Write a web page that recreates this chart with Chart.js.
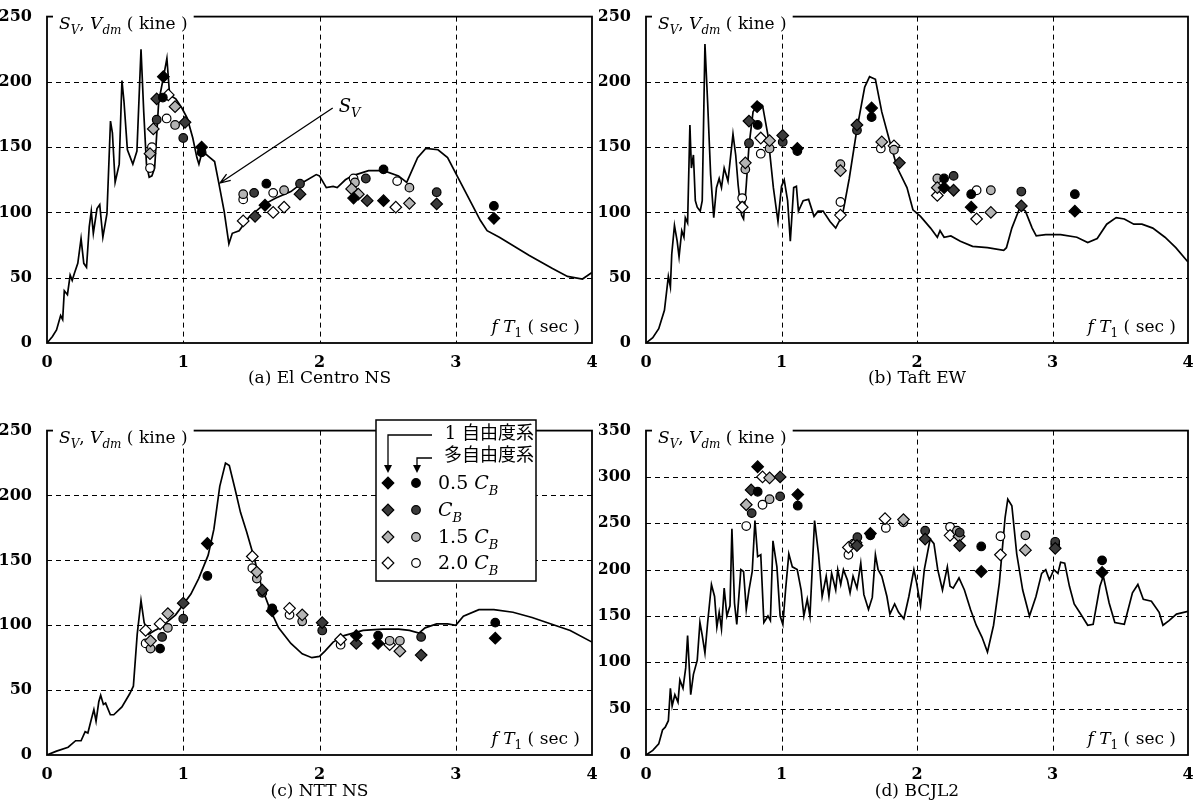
<!DOCTYPE html>
<html lang="ja">
<head>
<meta charset="UTF-8">
<title>Sv, Vdm - fT1</title>
<script src="https://cdn.jsdelivr.net/npm/chart.js"></script>
<style>
  body { margin: 0; background: #fff; }
  #wrap { position: relative; width: 1201px; height: 803px; overflow: hidden; }
  canvas { position: absolute; }
</style>
</head>
<body>
<div id="wrap">
  <canvas id="ca" width="600" height="400" style="left:0;top:0"></canvas>
  <canvas id="cb" width="602" height="400" style="left:599px;top:0"></canvas>
  <canvas id="cc" width="600" height="389" style="left:0;top:414px"></canvas>
  <canvas id="cd" width="602" height="389" style="left:599px;top:414px"></canvas>
</div>
<script>
// ---- データ (x: fT1 sec, y: kine) ----
const xTicks = [0, 1, 2, 3, 4];
const yTicksABC = [0, 50, 100, 150, 200, 250];
const yTicksD = [0, 50, 100, 150, 200, 250, 300, 350];
const captions = ['(a) El Centro NS', '(b) Taft EW', '(c) NTT NS', '(d) BCJL2'];

// (a) El Centro NS
const aLine = [[0,0],[0.04,5],[0.07,10],[0.1,21],[0.115,18],[0.127,40],[0.15,37],[0.17,52],[0.185,48],[0.2,53],[0.226,61],[0.25,80],[0.27,61],[0.29,58],[0.31,89],[0.325,101],[0.34,84],[0.367,103],[0.387,106],[0.41,81],[0.44,99],[0.466,170],[0.48,161],[0.5,123],[0.53,137],[0.55,201],[0.565,185],[0.59,148],[0.63,137],[0.66,147],[0.69,225],[0.71,177],[0.73,137],[0.75,127],[0.77,128],[0.79,134],[0.82,185],[0.85,201],[0.88,218],[0.9,190],[0.945,187],[0.99,180],[1.03,172],[1.07,157],[1.1,142],[1.115,137],[1.14,147],[1.185,143],[1.23,139],[1.26,123],[1.3,101],[1.335,76],[1.36,84],[1.41,86],[1.48,96],[1.59,106],[1.68,111],[1.79,116],[1.877,123],[1.976,129],[2.0,128],[2.05,119],[2.1,120],[2.13,119],[2.19,125],[2.24,128],[2.36,132],[2.47,132],[2.58,128],[2.64,123],[2.72,142],[2.78,149],[2.87,148],[2.94,142],[3.03,124],[3.12,106],[3.18,94],[3.23,86],[3.32,81],[3.54,67],[3.71,57],[3.82,51],[3.93,49],[4.0,54]];
const aD05 = [[0.854,204],[1.135,150],[1.6,105.5],[2.25,111],[2.47,109],[3.28,95.5]];
const aC05 = [[0.85,188],[1.135,146],[1.61,122],[2.47,133],[3.28,105]];
const aD10 = [[0.805,187],[1.013,169],[1.527,97],[1.857,114],[2.35,109],[2.86,106.5]];
const aC10 = [[0.805,171],[1.0,157],[1.52,115],[1.857,122],[2.34,126],[2.86,115.5]];
const aD15 = [[0.78,164],[0.94,181],[0.756,145],[2.236,118],[2.285,114],[2.66,107]];
const aC15 = [[0.94,167],[1.44,114],[1.74,117],[2.26,123],[2.66,119]];
const aD20 = [[0.89,190],[1.44,93.5],[1.66,100],[1.74,104],[2.56,104]];
const aC20 = [[0.756,134],[0.77,150],[0.878,172],[1.44,110],[1.66,115],[2.25,126],[2.57,124]];

// (b) Taft EW
const bLine = [[0,0],[0.05,4],[0.094,11],[0.136,25],[0.165,51],[0.18,43],[0.19,68],[0.21,90],[0.23,78],[0.244,66],[0.264,86],[0.28,81],[0.29,96],[0.307,92],[0.324,167],[0.335,134],[0.35,144],[0.364,109],[0.378,104],[0.4,101],[0.415,109],[0.435,229],[0.455,184],[0.477,129],[0.5,96],[0.52,119],[0.54,126],[0.557,119],[0.577,134],[0.605,124],[0.642,160],[0.662,144],[0.68,121],[0.705,98],[0.72,95],[0.74,121],[0.76,151],[0.79,177],[0.832,184],[0.86,182],[0.9,159],[0.94,119],[0.974,93],[1.0,120],[1.02,125],[1.045,109],[1.065,78],[1.09,119],[1.11,120],[1.125,101],[1.16,109],[1.2,110],[1.24,97],[1.27,101],[1.307,101],[1.358,93],[1.4,88],[1.45,98],[1.5,126],[1.557,164],[1.614,196],[1.65,204],[1.693,202],[1.74,177],[1.8,154],[1.855,134],[1.926,119],[1.97,102],[2.026,97],[2.1,88],[2.15,81],[2.17,86],[2.2,81],[2.25,82],[2.32,78],[2.41,74],[2.52,73],[2.64,71],[2.66,73],[2.7,88],[2.76,104],[2.8,101],[2.85,88],[2.88,82],[2.95,83],[3.06,83],[3.18,81],[3.26,77],[3.33,80],[3.4,91],[3.47,96],[3.53,95],[3.6,91],[3.66,91],[3.74,88],[3.83,81],[3.91,73],[4.0,62]];
const bD05 = [[0.82,181],[1.117,149],[1.665,180],[2.2,119],[2.4,104],[3.165,101]];
const bC05 = [[0.824,167],[1.117,147],[1.665,173],[2.2,126],[2.4,114],[3.165,114]];
const bD10 = [[0.76,170],[1.009,159],[1.557,167],[1.87,138],[2.27,117],[2.77,105]];
const bC10 = [[0.76,153],[1.009,154],[1.557,163],[2.27,128],[2.77,116]];
const bD15 = [[0.733,138],[0.912,155],[1.435,132],[1.74,154],[2.15,119],[2.545,100]];
const bC15 = [[0.733,133],[0.912,149],[1.435,137],[1.83,148],[2.15,126],[2.545,117]];
const bD20 = [[0.71,104],[0.847,157],[1.435,98],[1.83,151],[2.15,113],[2.44,95]];
const bC20 = [[0.71,111],[0.847,145],[1.435,108],[1.733,149],[2.44,117]];

// (c) NTT NS
const cLine = [[0,0],[0.07,3],[0.155,6],[0.21,11],[0.25,11],[0.28,18],[0.3,17],[0.324,27],[0.344,35],[0.36,26],[0.38,41],[0.394,46],[0.414,39],[0.43,40],[0.465,31],[0.49,31],[0.55,37],[0.606,47],[0.634,53],[0.662,93],[0.676,106],[0.69,119],[0.713,102],[0.746,93],[0.79,96],[0.83,98],[0.887,103],[0.944,108],[1.0,116],[1.056,124],[1.113,136],[1.183,154],[1.225,174],[1.268,207],[1.31,225],[1.338,223],[1.38,205],[1.42,187],[1.465,172],[1.52,152],[1.577,129],[1.634,113],[1.7,98],[1.79,86],[1.873,78],[1.944,75],[2.0,76],[2.04,80],[2.1,87],[2.18,92],[2.32,96],[2.465,97],[2.58,97],[2.66,96],[2.73,94],[2.775,98],[2.86,101],[2.94,101],[3.0,100],[3.056,107],[3.17,112],[3.28,112],[3.42,110],[3.56,106],[3.7,101],[3.84,96],[4.0,87]];
const cD05 = [[1.177,163],[1.653,111],[2.27,92],[2.43,86],[3.29,90]];
const cC05 = [[0.83,82],[1.177,138],[1.653,113],[2.43,92],[3.29,102]];
const cD10 = [[1.0,117],[1.58,127],[2.02,102],[2.27,86],[2.746,77]];
const cC10 = [[0.845,91],[1.0,105],[1.58,125],[2.02,96],[2.746,91]];
const cD15 = [[0.76,88],[0.887,109],[1.54,141],[1.873,108],[2.59,80]];
const cC15 = [[0.76,82],[0.887,98],[1.54,136],[1.873,103],[2.515,88],[2.59,88]];
const cD20 = [[0.724,96],[0.83,101],[1.507,153],[1.78,113],[2.155,89],[2.515,85]];
const cC20 = [[0.724,86],[1.507,144],[1.78,108],[2.155,85]];

// (d) BCJL2
const dLine = [[0,0],[0.05,5],[0.094,12],[0.122,27],[0.142,30],[0.165,37],[0.18,72],[0.193,53],[0.213,65],[0.236,57],[0.25,81],[0.273,72],[0.293,94],[0.307,129],[0.33,65],[0.35,87],[0.378,102],[0.398,143],[0.415,129],[0.435,110],[0.455,143],[0.483,184],[0.506,171],[0.523,138],[0.54,154],[0.557,136],[0.577,180],[0.597,150],[0.62,161],[0.634,244],[0.653,164],[0.67,141],[0.7,200],[0.72,198],[0.74,157],[0.76,178],[0.784,198],[0.804,253],[0.824,214],[0.847,216],[0.87,143],[0.9,150],[0.918,145],[0.937,231],[0.966,203],[0.99,150],[1.01,141],[1.03,178],[1.054,217],[1.08,203],[1.116,200],[1.145,178],[1.165,150],[1.19,168],[1.21,150],[1.244,253],[1.273,217],[1.3,171],[1.33,193],[1.35,171],[1.37,196],[1.4,178],[1.415,200],[1.437,184],[1.457,200],[1.486,189],[1.506,175],[1.528,193],[1.557,180],[1.585,207],[1.608,173],[1.642,157],[1.67,170],[1.693,216],[1.713,200],[1.74,193],[1.778,171],[1.8,152],[1.835,163],[1.864,154],[1.903,147],[1.94,171],[1.977,200],[1.997,186],[2.026,161],[2.054,200],[2.097,233],[2.125,228],[2.153,200],[2.188,178],[2.224,203],[2.244,182],[2.267,180],[2.31,191],[2.35,178],[2.395,157],[2.437,140],[2.48,127],[2.52,111],[2.565,140],[2.608,186],[2.65,256],[2.67,276],[2.7,269],[2.736,217],[2.78,178],[2.83,150],[2.878,171],[2.92,196],[2.95,200],[2.977,189],[3.01,200],[3.04,196],[3.06,208],[3.09,207],[3.125,182],[3.16,163],[3.2,154],[3.26,140],[3.3,141],[3.35,182],[3.375,193],[3.418,164],[3.46,143],[3.53,141],[3.59,175],[3.63,184],[3.67,168],[3.73,166],[3.787,154],[3.815,140],[3.86,145],[3.915,152],[4.0,155]];
const dD05 = [[0.824,311],[1.12,281],[1.656,239],[2.474,198],[3.366,197]];
const dC05 = [[0.824,284],[1.12,269],[1.656,237],[2.474,225],[3.366,210]];
const dD10 = [[0.776,286],[0.99,300],[1.557,226],[2.06,233],[2.315,226],[3.02,223]];
const dC10 = [[0.78,261],[0.99,279],[1.56,235],[2.06,242],[2.315,240],[3.02,230]];
const dD15 = [[0.74,270],[0.912,299],[1.55,229],[1.9,254],[2.31,236],[2.8,221]];
const dC15 = [[0.912,276],[1.53,228],[1.9,251],[2.295,242],[2.8,237],[3.02,227]];
const dD20 = [[0.86,300],[1.494,224],[1.764,255],[2.244,237],[2.616,216]];
const dC20 = [[0.74,247],[0.86,270],[1.494,216],[1.77,245],[2.244,246],[2.616,236]];

// 矢印注記 S_V (a) : 始点, 終点
const svArrow = [[2.097, 180], [1.27, 122.5]];

// 塗り: 0.5CB 黒, CB 濃い網, 1.5CB 薄い網, 2.0CB 白
const fills = ['#000', '#3a3a3a', '#b4b4b4', '#fff'];

const SERIF = '"DejaVu Serif", serif';

function rich(ctx, parts, x, y, size, dry) {
  let cx = x;
  for (const p of parts) {
    const fs = p.sub ? Math.round(size * 0.7) : size;
    ctx.font = (p.it ? 'italic ' : '') + fs + 'px ' + SERIF;
    if (!dry) ctx.fillText(p.t, cx, y + (p.sub ? size * 0.3 : 0));
    cx += ctx.measureText(p.t).width;
  }
  return cx - x;
}

function marker(ctx, kind, x, y) {
  ctx.beginPath();
  if (kind % 2 === 0) {
    const r = 5.8;
    ctx.moveTo(x - r, y); ctx.lineTo(x, y - r); ctx.lineTo(x + r, y); ctx.lineTo(x, y + r); ctx.closePath();
  } else {
    ctx.arc(x, y, 4.3, 0, Math.PI * 2);
  }
  ctx.fillStyle = fills[kind >> 1]; ctx.fill();
  ctx.lineWidth = 1.2; ctx.strokeStyle = '#000'; ctx.setLineDash([]); ctx.stroke();
}

const yLabel = [{t:'S',it:1},{t:'V',it:1,sub:1},{t:', '},{t:'V',it:1},{t:'dm',it:1,sub:1},{t:' ( kine )'}];
const xLabel = [{t:'f',it:1},{t:' '},{t:'T',it:1},{t:'1',sub:1},{t:' ( sec )'}];

const deco = {
  id: 'deco',
  beforeDatasetsDraw(chart) {
    const {ctx, chartArea: a, scales: {x, y}} = chart;
    ctx.save();
    ctx.strokeStyle = '#000'; ctx.lineWidth = 1; ctx.setLineDash([5, 4]);
    ctx.beginPath();
    x.ticks.forEach(t => {
      if (t.value <= x.min || t.value >= x.max) return;
      const px = Math.round(x.getPixelForValue(t.value)) + 0.5;
      ctx.moveTo(px, a.top); ctx.lineTo(px, a.bottom);
    });
    y.ticks.forEach(t => {
      if (t.value <= y.min || t.value >= y.max) return;
      const py = Math.round(y.getPixelForValue(t.value)) + 0.5;
      ctx.moveTo(a.left, py); ctx.lineTo(a.right, py);
    });
    ctx.stroke();
    ctx.restore();
  },
  afterDatasetsDraw(chart, args, opts) {
    const {ctx, chartArea: a, scales: {x, y}} = chart;
    ctx.save();
    ctx.setLineDash([]);
    ctx.strokeStyle = '#000'; ctx.lineWidth = 1.8;
    ctx.strokeRect(a.left, a.top, a.right - a.left, a.bottom - a.top);

    // 縦軸ラベル
    ctx.textBaseline = 'alphabetic'; ctx.textAlign = 'left';
    const w = rich(ctx, yLabel, 0, 0, 17, true);
    ctx.fillStyle = '#fff';
    ctx.fillRect(a.left + 6, a.top - 5, w + 12, 22);
    ctx.fillStyle = '#000';
    rich(ctx, yLabel, a.left + 12, a.top + 12, 17);

    // 横軸ラベル
    const w2 = rich(ctx, xLabel, 0, 0, 17, true);
    rich(ctx, xLabel, a.right - 12 - w2, a.bottom - 11, 17);

    if (opts.sv) {
      const x1 = x.getPixelForValue(svArrow[0][0]), y1 = y.getPixelForValue(svArrow[0][1]);
      const x2 = x.getPixelForValue(svArrow[1][0]), y2 = y.getPixelForValue(svArrow[1][1]);
      ctx.lineWidth = 1.3;
      ctx.beginPath(); ctx.moveTo(x1, y1); ctx.lineTo(x2, y2);
      const ang = Math.atan2(y1 - y2, x1 - x2), L = 11, h = 0.35;
      ctx.moveTo(x2 + L * Math.cos(ang + h), y2 + L * Math.sin(ang + h));
      ctx.lineTo(x2, y2);
      ctx.lineTo(x2 + L * Math.cos(ang - h), y2 + L * Math.sin(ang - h));
      ctx.stroke();
      rich(ctx, [{t:'S',it:1},{t:'V',it:1,sub:1}], x1 + 6, y1 + 4, 18);
    }

    if (opts.legend) {
      const L = {l: 376, r: 536, t: 6, b: 167};
      ctx.fillStyle = '#fff';
      ctx.fillRect(L.l, L.t, L.r - L.l, L.b - L.t);
      ctx.lineWidth = 1.5; ctx.strokeStyle = '#000';
      ctx.strokeRect(L.l, L.t, L.r - L.l, L.b - L.t);
      ctx.fillStyle = '#000';
      ctx.font = '18px ' + SERIF + ', "Noto Sans CJK JP"';
      ctx.textAlign = 'right'; ctx.textBaseline = 'middle';
      ctx.fillText('1 自由度系', 534, 20);
      ctx.fillText('多自由度系', 534, 42);
      ctx.lineWidth = 1.3;
      ctx.beginPath();
      ctx.moveTo(432, 21); ctx.lineTo(388, 21); ctx.lineTo(388, 52);
      ctx.moveTo(432, 44); ctx.lineTo(417, 44); ctx.lineTo(417, 52);
      ctx.stroke();
      ctx.beginPath();
      ctx.moveTo(384, 51); ctx.lineTo(392, 51); ctx.lineTo(388, 59); ctx.closePath();
      ctx.moveTo(413, 51); ctx.lineTo(421, 51); ctx.lineTo(417, 59); ctx.closePath();
      ctx.fill();
      const rows = [[{t:'0.5 '},{t:'C',it:1},{t:'B',it:1,sub:1}], [{t:'C',it:1},{t:'B',it:1,sub:1}],
                    [{t:'1.5 '},{t:'C',it:1},{t:'B',it:1,sub:1}], [{t:'2.0 '},{t:'C',it:1},{t:'B',it:1,sub:1}]];
      const ry = [69, 96, 123, 149];
      rows.forEach((parts, i) => {
        marker(ctx, i * 2, 388, ry[i]);
        marker(ctx, i * 2 + 1, 416, ry[i]);
        ctx.fillStyle = '#000'; ctx.textAlign = 'left'; ctx.textBaseline = 'alphabetic';
        rich(ctx, parts, 438, ry[i] + 6, 19);
      });
    }
    ctx.restore();
  }
};

function markerSets(sets) {
  return sets.map((d, i) => ({
    data: d,
    showLine: false,
    pointStyle: i % 2 ? 'circle' : 'rectRot',
    pointRadius: i % 2 ? 4.3 : 5.8,
    pointBackgroundColor: fills[i >> 1],
    pointBorderColor: '#000',
    pointBorderWidth: 1.2,
    order: 1
  }));
}

function panel(id, line, sets, yTicks, caption, geo, extra) {
  const ymax = yTicks[yTicks.length - 1];
  new Chart(document.getElementById(id), {
    type: 'scatter',
    data: {
      datasets: [
        { data: line, showLine: true, pointRadius: 0, borderColor: '#000', borderWidth: 1.7, tension: 0, order: 2 },
        ...markerSets(sets)
      ]
    },
    options: {
      responsive: false,
      animation: false,
      events: [],
      layout: { padding: { left: 0, top: geo.top, right: geo.right, bottom: 0 } },
      plugins: { legend: { display: false }, tooltip: { enabled: false }, deco: extra },
      scales: {
        x: {
          type: 'linear', min: 0, max: 4,
          afterBuildTicks: s => { s.ticks = xTicks.map(v => ({ value: v })); },
          ticks: { color: '#000', padding: 2, maxRotation: 0, font: { family: SERIF, size: 16, weight: 'bold' } },
          grid: { display: false }, border: { display: false },
          title: { display: true, text: caption, color: '#000', font: { family: SERIF, size: 17 }, padding: { top: 0, bottom: geo.capPad } },
          afterFit: s => { s.height = geo.xh; }
        },
        y: {
          type: 'linear', min: 0, max: ymax,
          afterBuildTicks: s => { s.ticks = yTicks.map(v => ({ value: v })); },
          ticks: { color: '#000', padding: 7, font: { family: SERIF, size: 16, weight: 'bold' } },
          grid: { display: false }, border: { display: false },
          afterFit: s => { s.width = 47; }
        }
      }
    },
    plugins: [deco]
  });
}

panel('ca', aLine, [aD05, aC05, aD10, aC10, aD15, aC15, aD20, aC20], yTicksABC, captions[0],
      { top: 14, right: 8, xh: 57, capPad: 11 }, { sv: true });
panel('cb', bLine, [bD05, bC05, bD10, bC10, bD15, bC15, bD20, bC20], yTicksABC, captions[1],
      { top: 14, right: 13, xh: 57, capPad: 11 }, {});
panel('cc', cLine, [cD05, cC05, cD10, cC10, cD15, cC15, cD20, cC20], yTicksABC, captions[2],
      { top: 14, right: 8, xh: 48, capPad: 1 }, { legend: true });
panel('cd', dLine, [dD05, dC05, dD10, dC10, dD15, dC15, dD20, dC20], yTicksD, captions[3],
      { top: 14, right: 13, xh: 48, capPad: 1 }, {});
</script>
</body>
</html>
